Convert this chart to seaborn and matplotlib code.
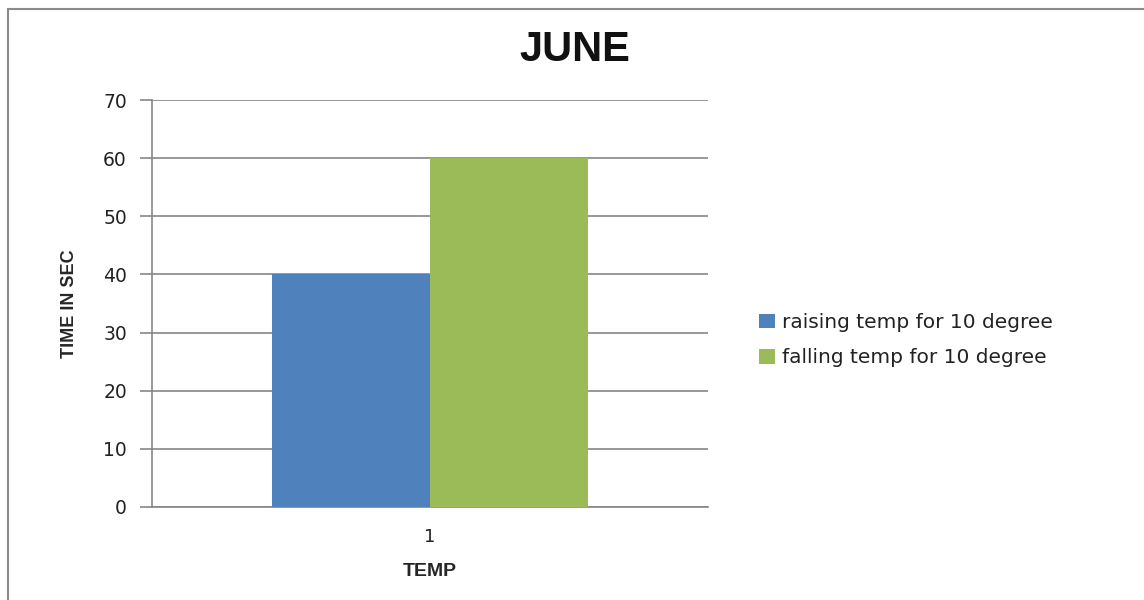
import seaborn as sns
import matplotlib.pyplot as plt
import pandas as pd
from matplotlib.patches import Rectangle

# data
categories = ["1"]
series = ["raising temp for 10 degree", "falling temp for 10 degree"]
raising = [40]
falling = [60]
colors = ["#4F81BD", "#9BBB59"]

df = pd.DataFrame({
    "TEMP": categories * 2,
    "value": raising + falling,
    "series": [series[0]] * len(categories) + [series[1]] * len(categories),
})

sns.set_style("white")
plt.rcParams["font.family"] = ["DejaVu Sans"]
plt.rcParams["font.sans-serif"] = ["DejaVu Sans"]

fig = plt.figure(figsize=(11.44, 6.0), dpi=100)
ax = fig.add_axes([152 / 1144, 1 - 507 / 600, (708 - 152) / 1144, (507 - 100) / 600])

sns.barplot(data=df, x="TEMP", y="value", hue="series", palette=colors,
            width=0.57, saturation=1, edgecolor="none", ax=ax, zorder=3)

ax.set_ylim(0, 70)
ax.set_yticks(range(0, 71, 10))
ax.set_xlim(-0.5, 0.5)
ax.grid(axis="y", color="#868686", linewidth=1.2, zorder=0)
for s in ["top", "right"]:
    ax.spines[s].set_visible(False)
for s in ["left", "bottom"]:
    ax.spines[s].set_color("#868686")
    ax.spines[s].set_linewidth(1.2)
ax.tick_params(axis="y", length=9, width=1.2, color="#868686", labelsize=13.5,
               labelcolor="#222222", pad=9, left=True)
ax.tick_params(axis="x", length=0, labelsize=13, labelcolor="#222222", pad=15)
for t in ax.get_xticklabels() + ax.get_yticklabels():
    t.set_family("DejaVu Sans")

ax.set_xlabel("TEMP", fontsize=14, fontweight="bold", family="Liberation Sans", labelpad=12)
ax.set_ylabel("TIME IN SEC", fontsize=13, fontweight="bold", family="Liberation Sans", labelpad=18)
fig.text(575 / 1144, 1 - 50 / 600, "JUNE", ha="center", va="center",
         fontsize=30, fontweight="bold", family="Liberation Sans", color="#111111")

leg = ax.legend(loc="center left", bbox_to_anchor=(1.06, 0.41), frameon=False,
                prop={"family": "DejaVu Sans", "size": 14.5},
                handlelength=0.75, handleheight=0.75, handletextpad=0.35,
                labelspacing=0.8)
for t in leg.get_texts():
    t.set_color("#222222")

# chart frame
fig.patches.append(Rectangle((8 / 1144, -0.1), 1.2, 1 - 9 / 600 + 0.1,
                             transform=fig.transFigure, fill=False,
                             edgecolor="#8a8a8a", linewidth=1.5))

fig.savefig("out.png", dpi=100)
